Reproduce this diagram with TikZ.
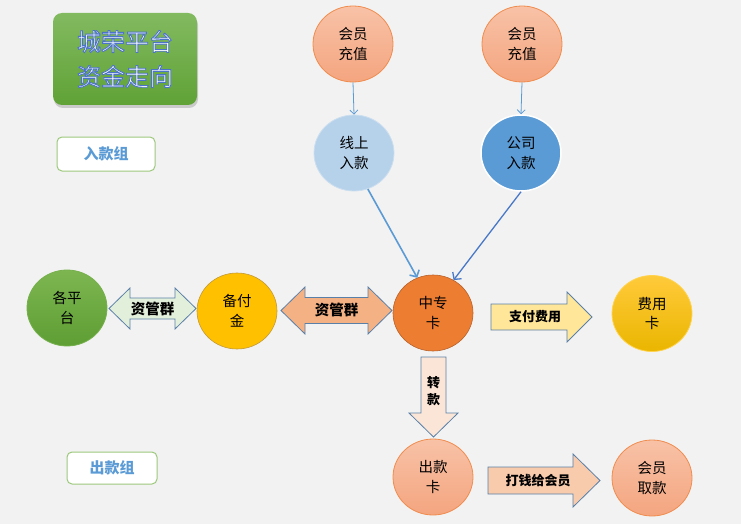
\documentclass[tikz,border=0pt]{standalone}
\usepackage{fontspec}
\setmainfont{Noto Sans CJK SC}
\usetikzlibrary{shapes.geometric,shadows,arrows.meta}
\definecolor{bg}{HTML}{F2F2F2}
\definecolor{titletop}{HTML}{82BA60}
\definecolor{titlebot}{HTML}{60A236}
\definecolor{grpborder}{HTML}{9CC87C}
\definecolor{grptext}{HTML}{5B9BD5}
\definecolor{salmontop}{HTML}{F8C2A7}
\definecolor{salmonbot}{HTML}{F4A57F}
\definecolor{salmonborder}{HTML}{F08C4E}
\definecolor{lightblue}{HTML}{B6D1EA}
\definecolor{lightblueborder}{HTML}{CCDFF0}
\definecolor{midblue}{HTML}{5B9BD5}
\definecolor{darkblue}{HTML}{4878C8}
\definecolor{greentop}{HTML}{7DB651}
\definecolor{greenbot}{HTML}{5E9E33}
\definecolor{greenborder}{HTML}{76B04C}
\definecolor{gold}{HTML}{FFC000}
\definecolor{goldborder}{HTML}{C29A38}
\definecolor{orange}{HTML}{ED7D31}
\definecolor{orangeborder}{HTML}{B8612A}
\definecolor{yellowtop}{HTML}{FFCA3A}
\definecolor{yellowbot}{HTML}{EAB600}
\definecolor{yellowborder}{HTML}{FFD34D}
\definecolor{arrowline}{HTML}{5A80A8}
\definecolor{arrgreen}{HTML}{E2EFDA}
\definecolor{arrsalmon}{HTML}{F4B183}
\definecolor{arryellow}{HTML}{FFE699}
\definecolor{arrpeach}{HTML}{FBE5D6}
\definecolor{arrpeach2}{HTML}{F8CBAD}
\newcommand{\outl}[1]{\special{pdf:literal direct 0.30 0.45 0.80 RG 0.9 w 2 Tr}#1\special{pdf:literal direct 0 Tr}}
\begin{document}
\begin{tikzpicture}[x=1pt,y=-1pt,
  circ/.style={ellipse, minimum width=80pt, minimum height=76pt, inner sep=0pt, align=center,
    font=\fontsize{14.5}{19.5}\selectfont, line width=0.8pt},
  salmoncirc/.style={circ, draw=salmonborder, top color=salmontop, bottom color=salmonbot},
  grpbox/.style={draw=grpborder, line width=1pt, fill=white, rounded corners=5pt,
    text=grptext, font=\fontsize{15}{16}\selectfont\bfseries},
  bigarrow/.style={draw=arrowline, line width=0.8pt, line join=miter},
  arrlabel/.style={font=\fontsize{13}{17}\selectfont\bfseries, align=center, inner sep=0pt},
  biglabel/.style={arrlabel, font=\fontsize{14.5}{17}\selectfont\bfseries},
  thinconn/.style={draw=midblue, line width=0.8pt, -{Straight Barb[length=4pt,width=8pt]}},
  thickconn/.style={line width=1.6pt, -{Straight Barb[length=5pt,width=11pt]}}
]
\fill[bg] (0,0) rectangle (741,524);
\useasboundingbox (0,0) rectangle (741,524);

% title
\node[rounded corners=9pt, minimum width=144pt, minimum height=92pt, inner sep=0pt,
  drop shadow={opacity=0.35, shadow xshift=1pt, shadow yshift=-3pt},
  top color=titletop, bottom color=titlebot, text=white, align=center,
  font=\fontsize{24}{35}\selectfont] (title) at (125,59) {\outl{城荣平台}\\\outl{资金走向}};

% group boxes
\node[grpbox, minimum width=98pt, minimum height=34pt] (ingroup) at (106,154) {入款组};
\node[grpbox, minimum width=90pt, minimum height=32pt] (outgroup) at (112,468) {出款组};

% circles
\node[salmoncirc] (hy1) at (353,44) {会员\\充值};
\node[salmoncirc] (hy2) at (522,44) {会员\\充值};
\node[circ, draw=lightblueborder, fill=lightblue] (xian) at (354,153) {线上\\入款};
\node[circ, draw=white, line width=1.5pt, fill=midblue] (gongsi) at (521,153) {公司\\入款};
\node[circ, draw=greenborder, top color=greentop, bottom color=greenbot] (gept) at (67,308) {各平\\台};
\node[circ, draw=goldborder, line width=0.6pt, fill=gold] (beifu) at (237,311) {备付\\金};
\node[circ, draw=orangeborder, line width=0.6pt, fill=orange] (zhong) at (433,313) {中专\\卡};
\node[circ, draw=yellowborder, top color=yellowtop, bottom color=yellowbot] (feiyong) at (652,313.5) {费用\\卡};
\node[salmoncirc] (chukuan) at (433,477) {出款\\卡};
\node[salmoncirc] (quk) at (652,478) {会员\\取款};

% connectors
\draw[thinconn] (hy1.south) -- (xian.north);
\draw[thinconn] (hy2.south) -- (gongsi.north);
\draw[thickconn, draw=midblue] (xian.-69) -- (zhong.114);
\draw[thickconn, draw=darkblue, line width=1.3pt] (gongsi.south) -- (zhong.58);

% double arrow 1 (资管群, light green)
\draw[bigarrow, fill=arrgreen] (109,308.5) -- (130,288) -- (130,298) -- (175,298) -- (175,288)
  -- (196,308.5) -- (175,329) -- (175,319) -- (130,319) -- (130,329) -- cycle;
\node[biglabel] (lab1) at (152.5,308.5) {资管群};

% double arrow 2 (资管群, salmon)
\draw[bigarrow, fill=arrsalmon] (281,310.5) -- (305,287) -- (305,297.5) -- (368,297.5) -- (368,287)
  -- (392,310.5) -- (368,334) -- (368,323.5) -- (305,323.5) -- (305,334) -- cycle;
\node[biglabel] (lab2) at (336.5,310) {资管群};

% right arrow 支付费用
\draw[bigarrow, fill=arryellow] (491,304) -- (567,304) -- (567,292) -- (592,317) -- (567,342)
  -- (567,330) -- (491,330) -- cycle;
\node[arrlabel] (lab3) at (535,317) {支付费用};

% down arrow 转款
\draw[bigarrow, fill=arrpeach] (421,357) -- (446,357) -- (446,413) -- (458,413) -- (433.5,437)
  -- (409,413) -- (421,413) -- cycle;
\node[arrlabel] (lab4) at (433.5,391) {转\\款};

% right arrow 打钱给会员
\draw[bigarrow, fill=arrpeach2] (488,467) -- (573,467) -- (573,454) -- (600,480.5) -- (573,507)
  -- (573,494) -- (488,494) -- cycle;
\node[arrlabel] (lab5) at (538,480.5) {打钱给会员};
\end{tikzpicture}
\end{document}
